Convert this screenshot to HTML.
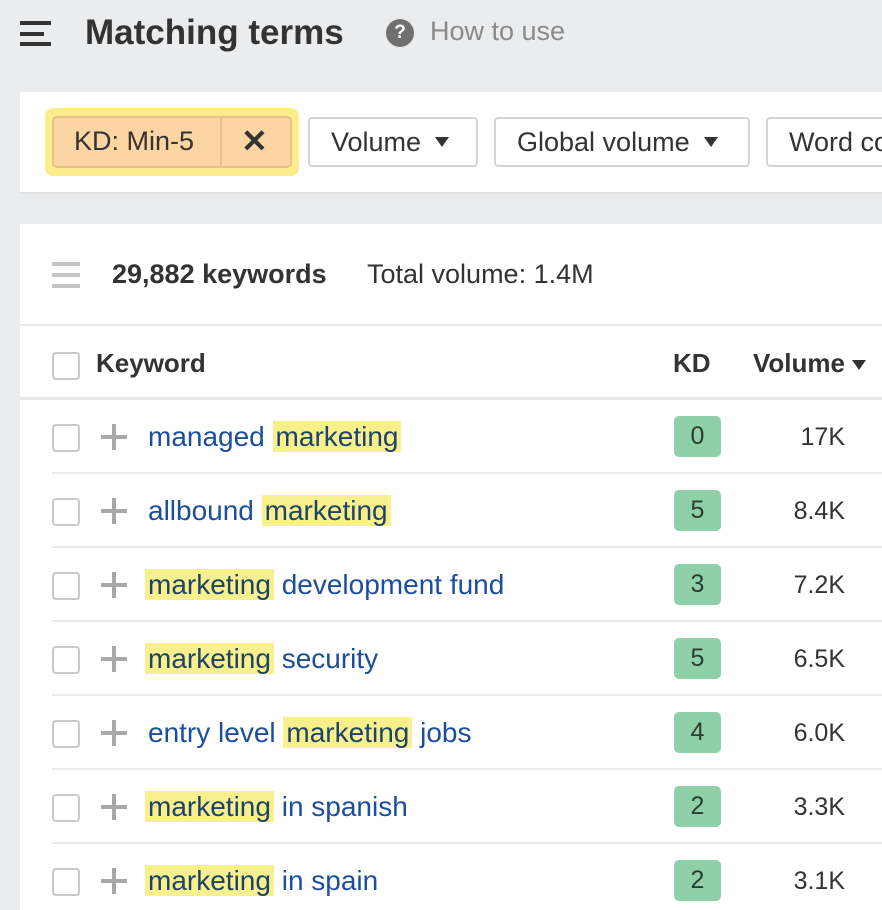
<!DOCTYPE html>
<html><head><meta charset="utf-8"><style>
*{margin:0;padding:0;box-sizing:border-box}
body{width:882px;height:910px;overflow:hidden;background:#ebecee;font-family:"Liberation Sans",Arial,sans-serif;position:relative;color:#333}
.a{position:absolute;white-space:nowrap}
.card{position:absolute;background:#fff}
.btn{position:absolute;top:117px;height:50px;border:2px solid #d4d4d4;border-radius:4px;background:#fff;font-size:27px;line-height:46px;padding-left:21px;color:#333;overflow:hidden;white-space:nowrap}
.tri{display:inline-block;width:0;height:0;border-left:7px solid transparent;border-right:7px solid transparent;border-top:10px solid #333;vertical-align:middle;margin-left:14px;margin-top:-4px}
.cb{position:absolute;left:52px;width:28px;height:28px;border:2px solid #c9c9c9;border-radius:4px;background:#fff}
.plus{position:absolute;left:101px;width:26px;height:26px}
.plus:before{content:"";position:absolute;left:0;top:11px;width:26px;height:4px;background:#a8a8a8}
.plus:after{content:"";position:absolute;left:11px;top:0;width:4px;height:26px;background:#a8a8a8}
.kw{position:absolute;left:145px;font-size:28px;color:#1b4e9c;line-height:38px;height:38px;white-space:nowrap}
.kw b{font-weight:normal;background:#f8ef8d;color:#1d4466;padding:0 3px}
.kd{position:absolute;left:674px;width:47px;height:41px;border-radius:5px;background:#8ed1a8;color:#2d3b33;font-size:25px;line-height:41px;text-align:center}
.vol{position:absolute;right:37px;font-size:25px;color:#333;line-height:30px}
.sep{position:absolute;left:52px;right:0;height:2px;background:#e9e9e9}
</style></head><body>
<div class="a" style="left:20px;top:21px;width:31px;height:4px;background:#333"></div>
<div class="a" style="left:20px;top:32px;width:24px;height:4px;background:#333"></div>
<div class="a" style="left:20px;top:42px;width:31px;height:4px;background:#333"></div>
<div class="a" style="left:85px;top:13px;font-size:35px;font-weight:bold;color:#333">Matching terms</div>
<div class="a" style="left:386px;top:19px;width:28px;height:28px;border-radius:50%;background:#707070;color:#fff;font-size:19px;font-weight:bold;text-align:center;line-height:28px">?</div>
<div class="a" style="left:430px;top:16px;font-size:27px;color:#8a8a8a">How to use</div>

<div class="card" style="left:20px;top:92px;width:862px;height:100px;box-shadow:0 2px 0 #e0e0e0"></div>
<div class="a" style="left:45px;top:108px;width:254px;height:68px;border-radius:8px;background:#fbed8c"></div>
<div class="a" style="left:52px;top:116px;width:240px;height:52px;border-radius:5px;background:#fdd5a2;border:2px solid #eac08b"></div>
<div class="a" style="left:220px;top:118px;width:2px;height:48px;background:#eac08b"></div>
<div class="a" style="left:74px;top:126px;font-size:27px;color:#333">KD: Min-5</div>
<div class="a" style="left:241px;top:122px;font-size:32px;color:#333;font-weight:bold">✕</div>
<div class="btn" style="left:308px;width:170px">Volume<span class="tri"></span></div>
<div class="btn" style="left:494px;width:256px">Global volume<span class="tri"></span></div>
<div class="btn" style="left:766px;width:116px;border-right:none;border-radius:4px 0 0 4px">Word count</div>

<div class="card" style="left:20px;top:224px;width:862px;height:686px"></div>
<div class="a" style="left:52px;top:262px;width:28px;height:4px;background:#c4c4c4"></div>
<div class="a" style="left:52px;top:273px;width:28px;height:4px;background:#c4c4c4"></div>
<div class="a" style="left:52px;top:284px;width:28px;height:4px;background:#c4c4c4"></div>
<div class="a" style="left:112px;top:259px;font-size:27px;font-weight:bold;color:#333">29,882 keywords</div>
<div class="a" style="left:367px;top:259px;font-size:27px;color:#333">Total volume: 1.4M</div>
<div class="a" style="left:20px;top:324px;width:862px;height:2px;background:#e9e9e9"></div>

<div class="cb" style="top:352px"></div>
<div class="a" style="left:96px;top:348px;font-size:26px;font-weight:bold;color:#333">Keyword</div>
<div class="a" style="left:673px;top:348px;font-size:26px;font-weight:bold;color:#333">KD</div>
<div class="a" style="left:753px;top:348px;font-size:26px;font-weight:bold;color:#333">Volume</div>
<div class="a" style="left:852px;top:360px;width:0;height:0;border-left:7px solid transparent;border-right:7px solid transparent;border-top:10px solid #333"></div>
<div class="a" style="left:20px;top:397px;width:862px;height:3px;background:#e9e9e9"></div>

<div class="cb" style="top:424px"></div><div class="plus" style="top:424px"></div>
<div class="kw" style="top:418px;left:148px">managed <b>marketing</b></div>
<div class="kd" style="top:416px">0</div><div class="vol" style="top:422px">17K</div>
<div class="sep" style="top:472px"></div>

<div class="cb" style="top:498px"></div><div class="plus" style="top:498px"></div>
<div class="kw" style="top:492px;left:148px">allbound <b>marketing</b></div>
<div class="kd" style="top:490px">5</div><div class="vol" style="top:496px">8.4K</div>
<div class="sep" style="top:546px"></div>

<div class="cb" style="top:572px"></div><div class="plus" style="top:572px"></div>
<div class="kw" style="top:566px"><b>marketing</b> development fund</div>
<div class="kd" style="top:564px">3</div><div class="vol" style="top:570px">7.2K</div>
<div class="sep" style="top:620px"></div>

<div class="cb" style="top:646px"></div><div class="plus" style="top:646px"></div>
<div class="kw" style="top:640px"><b>marketing</b> security</div>
<div class="kd" style="top:638px">5</div><div class="vol" style="top:644px">6.5K</div>
<div class="sep" style="top:694px"></div>

<div class="cb" style="top:720px"></div><div class="plus" style="top:720px"></div>
<div class="kw" style="top:714px;left:148px">entry level <b>marketing</b> jobs</div>
<div class="kd" style="top:712px">4</div><div class="vol" style="top:718px">6.0K</div>
<div class="sep" style="top:768px"></div>

<div class="cb" style="top:794px"></div><div class="plus" style="top:794px"></div>
<div class="kw" style="top:788px"><b>marketing</b> in spanish</div>
<div class="kd" style="top:786px">2</div><div class="vol" style="top:792px">3.3K</div>
<div class="sep" style="top:842px"></div>

<div class="cb" style="top:868px"></div><div class="plus" style="top:868px"></div>
<div class="kw" style="top:862px"><b>marketing</b> in spain</div>
<div class="kd" style="top:860px">2</div><div class="vol" style="top:866px">3.1K</div>
</body></html>
